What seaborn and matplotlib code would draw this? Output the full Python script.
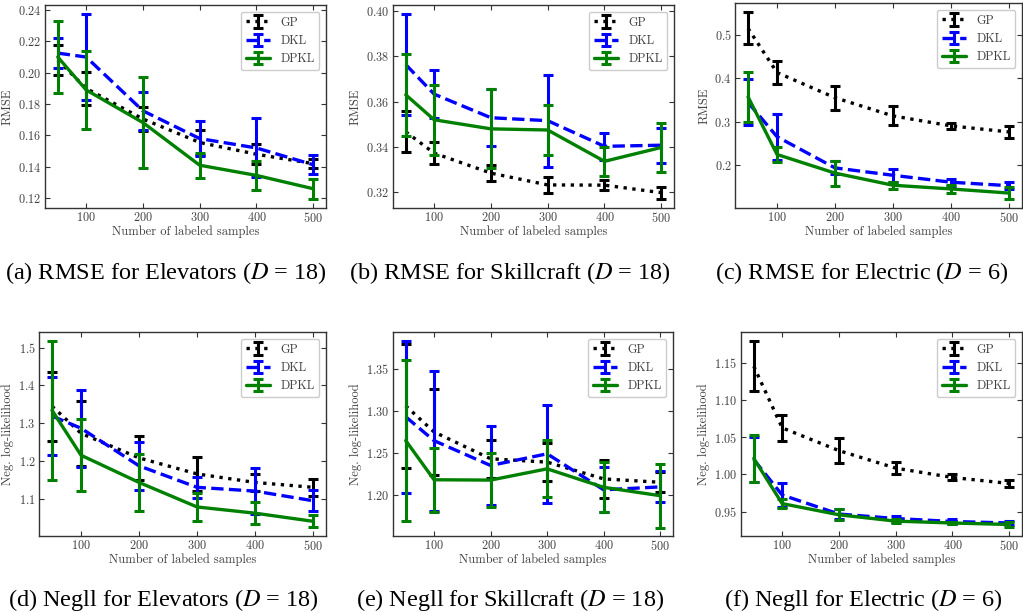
import numpy as np
import matplotlib
matplotlib.use("Agg")
import matplotlib.pyplot as plt
from matplotlib.ticker import MultipleLocator
import seaborn as sns
from matplotlib.container import ErrorbarContainer

samples = [50, 100, 200, 300, 400, 500]
methods = ["GP", "DKL", "DPKL"]

# (a) RMSE Elevators
rmse_elev_gp = [0.208, 0.190, 0.1705, 0.1555, 0.148, 0.142]
rmse_elev_gp_err = [0.0095, 0.0105, 0.0076, 0.0079, 0.0065, 0.003]
rmse_elev_dkl = [0.2125, 0.210, 0.1757, 0.158, 0.152, 0.1413]
rmse_elev_dkl_err = [0.0098, 0.0273, 0.0123, 0.011, 0.0188, 0.006]
rmse_elev_dpkl = [0.210, 0.189, 0.1682, 0.141, 0.1345, 0.126]
rmse_elev_dpkl_err = [0.0227, 0.025, 0.0289, 0.008, 0.0094, 0.0064]

# (b) RMSE Skillcraft
rmse_skill_gp = [0.3467, 0.3373, 0.3285, 0.3233, 0.3232, 0.3199]
rmse_skill_gp_err = [0.0091, 0.0047, 0.0035, 0.0037, 0.0023, 0.0027]
rmse_skill_dkl = [0.3763, 0.3633, 0.3529, 0.3516, 0.3403, 0.3408]
rmse_skill_dkl_err = [0.0222, 0.0107, 0.0125, 0.0202, 0.006, 0.0077]
rmse_skill_dpkl = [0.363, 0.352, 0.348, 0.3475, 0.3337, 0.3398]
rmse_skill_dpkl_err = [0.018, 0.0155, 0.0174, 0.011, 0.0064, 0.011]

# (c) RMSE Electric
rmse_elec_gp = [0.515, 0.413, 0.355, 0.313, 0.290, 0.276]
rmse_elec_gp_err = [0.037, 0.0275, 0.0275, 0.022, 0.0077, 0.0138]
rmse_elec_dkl = [0.344, 0.265, 0.193, 0.176, 0.160, 0.152]
rmse_elec_dkl_err = [0.053, 0.053, 0.015, 0.015, 0.0078, 0.0085]
rmse_elec_dpkl = [0.357, 0.224, 0.181, 0.153, 0.1445, 0.135]
rmse_elec_dpkl_err = [0.058, 0.018, 0.029, 0.0077, 0.0085, 0.013]

# (d) Negll Elevators
nll_elev_gp = [1.345, 1.273, 1.208, 1.1655, 1.143, 1.130]
nll_elev_gp_err = [0.0915, 0.086, 0.0578, 0.0455, 0.023, 0.023]
nll_elev_dkl = [1.319, 1.2865, 1.187, 1.130, 1.120, 1.0945]
nll_elev_dkl_err = [0.104, 0.1025, 0.063, 0.0275, 0.062, 0.0275]
nll_elev_dpkl = [1.334, 1.215, 1.143, 1.078, 1.0615, 1.040]
nll_elev_dpkl_err = [0.185, 0.095, 0.076, 0.037, 0.0295, 0.0155]

# (e) Negll Skillcraft
nll_skill_gp = [1.306, 1.275, 1.243, 1.239, 1.219, 1.215]
nll_skill_gp_err = [0.074, 0.051, 0.0228, 0.0228, 0.0228, 0.012]
nll_skill_dkl = [1.293, 1.2646, 1.235, 1.2489, 1.206, 1.2095]
nll_skill_dkl_err = [0.0906, 0.0835, 0.0468, 0.0585, 0.027, 0.0185]
nll_skill_dpkl = [1.2647, 1.218, 1.2176, 1.231, 1.209, 1.199]
nll_skill_dpkl_err = [0.0963, 0.0381, 0.0324, 0.034, 0.030, 0.038]

# (f) Negll Electric
nll_elec_gp = [1.145, 1.0625, 1.032, 1.0085, 0.996, 0.988]
nll_elec_gp_err = [0.0335, 0.0175, 0.0167, 0.0085, 0.004, 0.0052]
nll_elec_dkl = [1.020, 0.9725, 0.947, 0.941, 0.937, 0.935]
nll_elec_dkl_err = [0.030, 0.0155, 0.007, 0.004, 0.003, 0.003]
nll_elec_dpkl = [1.0215, 0.961, 0.946, 0.9375, 0.935, 0.933]
nll_elec_dpkl_err = [0.0315, 0.0065, 0.0072, 0.003, 0.002, 0.003]

captions = [
    r"(a) RMSE for Elevators ($D$ = 18)",
    r"(b) RMSE for Skillcraft ($D$ = 18)",
    r"(c) RMSE for Electric ($D$ = 6)",
    r"(d) Negll for Elevators ($D$ = 18)",
    r"(e) Negll for Skillcraft ($D$ = 18)",
    r"(f) Negll for Electric ($D$ = 6)",
]
ylabels = ["RMSE", "RMSE", "RMSE", "Neg. log-likelihood", "Neg. log-likelihood", "Neg. log-likelihood"]
xlabel = "Number of labeled samples"
xticks = [100, 200, 300, 400, 500]
ytick_steps = [0.02, 0.02, 0.1, 0.1, 0.05, 0.05]
ylims = [None, None, None, (1.001, 1.5416), (1.151, 1.394), None]

panels = [
    [(rmse_elev_gp, rmse_elev_gp_err), (rmse_elev_dkl, rmse_elev_dkl_err), (rmse_elev_dpkl, rmse_elev_dpkl_err)],
    [(rmse_skill_gp, rmse_skill_gp_err), (rmse_skill_dkl, rmse_skill_dkl_err), (rmse_skill_dpkl, rmse_skill_dpkl_err)],
    [(rmse_elec_gp, rmse_elec_gp_err), (rmse_elec_dkl, rmse_elec_dkl_err), (rmse_elec_dpkl, rmse_elec_dpkl_err)],
    [(nll_elev_gp, nll_elev_gp_err), (nll_elev_dkl, nll_elev_dkl_err), (nll_elev_dpkl, nll_elev_dpkl_err)],
    [(nll_skill_gp, nll_skill_gp_err), (nll_skill_dkl, nll_skill_dkl_err), (nll_skill_dpkl, nll_skill_dpkl_err)],
    [(nll_elec_gp, nll_elec_gp_err), (nll_elec_dkl, nll_elec_dkl_err), (nll_elec_dpkl, nll_elec_dpkl_err)],
]

colors = ["black", "#0000ff", "#008000"]
styles = [":", "--", "-"]

sns.set_theme(style="ticks")
plt.rcParams.update({
    "font.family": ["cmr10", "DejaVu Serif"],
    "axes.formatter.use_mathtext": True,
    "mathtext.fontset": "stix",
    "axes.edgecolor": "0.2",
    "axes.linewidth": 1.0,
    "xtick.direction": "in",
    "ytick.direction": "in",
    "xtick.top": True,
    "ytick.right": True,
    "xtick.color": "0.2",
    "ytick.color": "0.2",
    "xtick.labelcolor": "0.25",
    "ytick.labelcolor": "0.25",
    "xtick.labelsize": 8.8,
    "ytick.labelsize": 8.8,
    "axes.labelcolor": "0.25",
    "axes.labelsize": 9,
})

W, H = 1023, 613
fig = plt.figure(figsize=(W / 100, H / 100), dpi=100)

# axes boxes in pixels: left, top, right, bottom
boxes = [
    (45, 5, 326, 208),
    (393, 5, 674, 208),
    (735, 3, 1022, 208),
    (39, 332, 326, 536),
    (393, 332, 673, 536),
    (741, 332, 1022, 536),
]
cap_pos = [(166, 273), (510, 273), (862, 273), (163, 600), (510, 600), (863, 600)]

for i, (box, series) in enumerate(zip(boxes, panels)):
    l, t, r, b = box
    ax = fig.add_axes([l / W, 1 - b / H, (r - l) / W, (b - t) / H])
    handles = []
    for name, (mean, err), c, ls in zip(methods, series, colors, styles):
        sns.lineplot(x=samples, y=mean, ax=ax, color=c, linestyle=ls, lw=2.4)
        line = ax.lines[-1]
        eb = ax.errorbar(samples, mean, yerr=err, fmt="none", ecolor=c, elinewidth=2.2,
                         capsize=3.6, capthick=2.2)
        handles.append(ErrorbarContainer((line, eb.lines[1], eb.lines[2]), has_yerr=True, label=name))
    ax.set_xticks(xticks)
    ax.yaxis.set_major_locator(MultipleLocator(ytick_steps[i]))
    if ylims[i] is not None:
        ax.set_ylim(*ylims[i])
    ax.set_xlabel(xlabel, labelpad=0)
    ax.set_ylabel(ylabels[i], labelpad=3)
    ax.tick_params(length=3.5, width=0.8, pad=2.5)
    leg = ax.legend(handles=handles, labels=methods, loc="upper right", fontsize=8.8,
                    frameon=True, fancybox=True, edgecolor="0.8", framealpha=1,
                    borderaxespad=0.55, handlelength=2.0)
    for txt in leg.get_texts():
        txt.set_color("0.25")
    fig.text(cap_pos[i][0] / W, 1 - cap_pos[i][1] / H, captions[i], ha="center", va="center",
             fontsize=17.5, family=["Liberation Serif"], color="black")

fig.savefig("out.png", dpi=100)
